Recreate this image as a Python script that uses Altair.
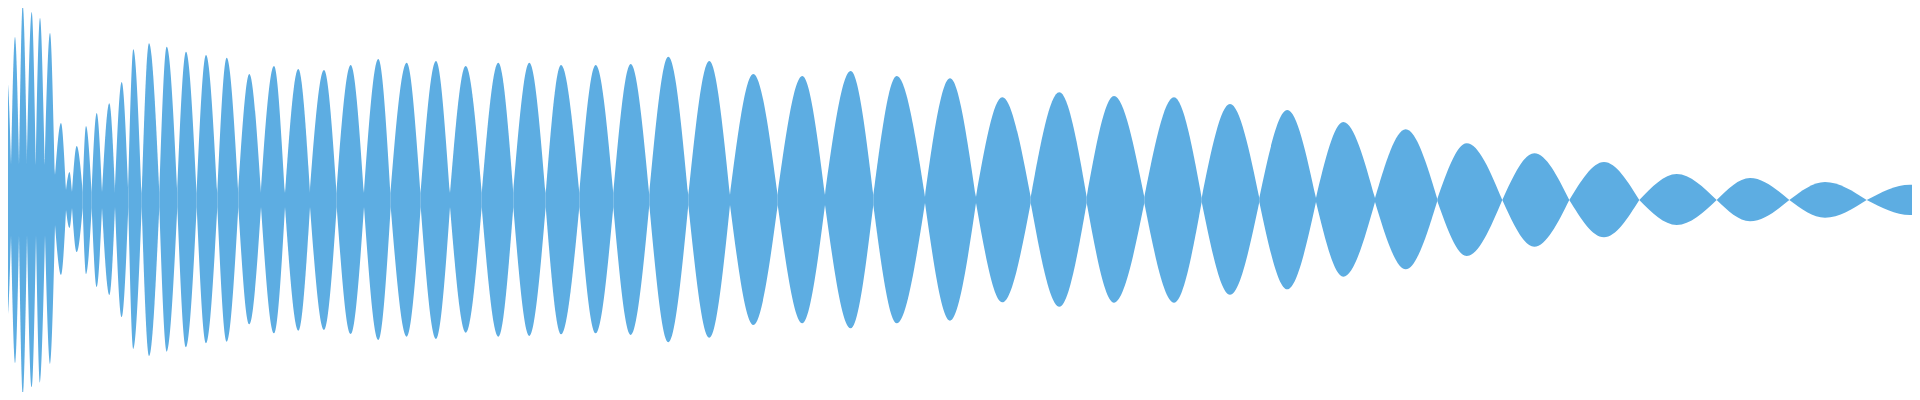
import altair as alt
import pandas as pd

# zero-crossing positions (x, in reference pixel units) and floor amplitude there
cross_x = [0, 11, 19, 27, 36, 45, 55, 66, 72, 82.7, 91.7, 102, 115, 128.3, 141.7,
           159.3, 177.3, 196.7, 217.3, 238.3, 261, 285, 310, 336.7, 364, 390.7,
           420.7, 450, 481.7, 513.3, 545.7, 579.3, 613.3, 649.3, 688.3, 730,
           777.7, 825, 873.3, 925, 976, 1030.7, 1086.7, 1144.3, 1201.7, 1259.3,
           1316, 1375, 1437.3, 1502.3, 1569.3, 1639.3, 1716.7, 1789.3, 1866.7, 1920]
cross_amp = [30, 35, 35, 35, 35, 35, 25, 10, 8, 8, 8, 8, 7, 7, 7,
             7, 7, 7, 7, 7, 7, 7, 7, 7, 7, 7,
             7, 7, 7, 7, 7, 7, 7, 5, 5, 5,
             5, 5, 5, 3, 3, 3, 3, 3, 2, 2,
             2, 2, 1, 0, 0, 0, 0, 0, 0, 13]

# lobe peaks: position, upper amplitude, lower amplitude
peak_x = [7.3, 15, 22.7, 31.7, 40, 50, 61, 69.5, 76.7, 86, 96.7, 109.3, 121.7, 133.3,
          149, 166.7, 186, 206, 226.7, 249.3, 274, 298.3, 324, 350.7, 378.3, 406.7,
          436, 465.7, 498.3, 529.3, 561, 595.7, 630.7, 668.3, 709.3, 753.3, 802.3,
          850.7, 896.7, 950, 1002.3, 1059.3, 1114, 1174, 1230, 1287.3, 1343.3,
          1405.7, 1466.7, 1534.3, 1604, 1676.7, 1750, 1825, 1910]
peak_top = [120, 163, 195, 188, 182, 167, 77, 28, 54, 74, 87, 96.7, 118, 150.7,
            156.7, 153.3, 148.3, 145, 142.3, 126, 134, 131, 130, 135, 141, 137.3,
            139, 134, 137.3, 137.3, 135, 135, 136, 143.3, 139, 126, 124,
            129, 124, 121.7, 102.7, 107.7, 104, 102.7, 96, 90, 78,
            70.7, 56.7, 46.7, 38, 26, 22, 18, 15.3]
peak_bottom = [118, 163, 195, 187, 183, 164, 75, 28, 52, 74, 87, 95, 117, 149,
               156, 151.7, 147.3, 143.3, 141.7, 124.3, 133.3, 130.7, 130, 134, 140, 136.7,
               139, 132.7, 136.7, 136, 134.3, 133.3, 135, 142.3, 137.7, 125, 123.3,
               128.3, 123.3, 120.7, 102.3, 106.7, 102.7, 102.7, 94.7, 89.3, 76.7,
               69.3, 56, 46.7, 37.3, 25, 21.3, 17.7, 15]

rows = []
for i in range(len(peak_x)):
    pts = [
        (cross_x[i], cross_amp[i], cross_amp[i]),
        (peak_x[i], peak_top[i], peak_bottom[i]),
        (cross_x[i + 1], cross_amp[i + 1], cross_amp[i + 1]),
    ]
    for x, t, b in pts:
        rows.append({"lobe": i, "t": x, "upper": t, "lower": -b})
df = pd.DataFrame(rows)

chart = (
    alt.Chart(df)
    .mark_area(interpolate="monotone", color="#5DADE2", opacity=1, clip=True)
    .encode(
        x=alt.X("t:Q", scale=alt.Scale(domain=[8, 1912], nice=False, zero=False), axis=None),
        y=alt.Y("upper:Q", scale=alt.Scale(domain=[-192, 192], nice=False, zero=False), axis=None),
        y2="lower:Q",
        detail="lobe:N",
    )
    .properties(width=1904, height=384, padding=0, autosize="none")
    .configure_view(stroke=None)
)

chart.save("out.html", embed_options={"renderer": "svg", "actions": False})
